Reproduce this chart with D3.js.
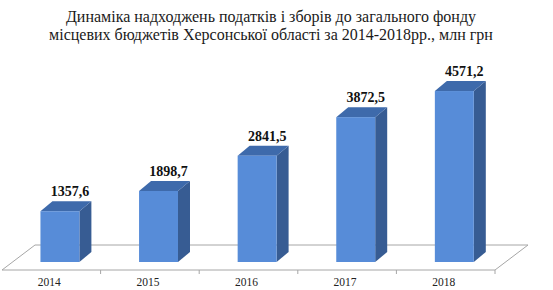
<!DOCTYPE html>
<html>
<head>
<meta charset="utf-8">
<script src="https://cdn.jsdelivr.net/npm/d3@7"></script>
<style>
  body { margin: 0; background: #fff; }
</style>
</head>
<body>
<div class="chart"></div>
<script>
// chart data
var years = ["2014", "2015", "2016", "2017", "2018"];
var values = [1357.6, 1898.7, 2841.5, 3872.5, 4571.2];
var valueLabels = ["1357,6", "1898,7", "2841,5", "3872,5", "4571,2"];
var titleLines = [
  "Динаміка надходжень податків і зборів до загального фонду",
  "місцевих бюджетів Херсонської області за 2014-2018рр., млн грн"
];

var svgWidth = 553;
var svgHeight = 290;

// 3d depth of floor and bars
var floorDx = 33, floorDy = -25;
var barDx = 12, barDy = -10;
var floorFront = 270;
var baseY = 262;

var svg = d3.select(".chart")
  .append("svg")
  .attr("width", svgWidth)
  .attr("height", svgHeight);

// scales
var xScale = d3.scaleBand()
  .domain(years)
  .range([2, 495])
  .padding(0);

var yScale = d3.scaleLinear()
  .domain([0, 5000])
  .range([baseY, baseY - 5000 * 0.0374]);

var barOffset = xScale.bandwidth() * 0.39;
var barWidth = xScale.bandwidth() * 0.395;

// title
svg.append("g")
  .selectAll("text")
  .data(titleLines)
  .enter()
  .append("text")
  .attr("x", 271)
  .attr("y", (d, i) => 22 + i * 18)
  .attr("text-anchor", "middle")
  .style("font", "16px 'Liberation Serif', 'Times New Roman', serif")
  .attr("fill", "#1a1a1a")
  .text(d => d);

// floor
var x0 = xScale.range()[0], x1 = xScale.range()[1];
var floor = svg.append("g")
  .attr("fill", "none")
  .attr("stroke", "#a6a6a6")
  .attr("stroke-width", 1);

floor.append("path")
  .attr("d", `M${x0},${floorFront} L${x1},${floorFront} L${x1 + floorDx},${floorFront + floorDy} L${x0 + floorDx},${floorFront + floorDy} Z`);

// ticks on front edge
floor.selectAll("line")
  .data(years.slice(1).concat(["end"]))
  .enter()
  .append("line")
  .attr("x1", (d, i) => x0 + (i + 1) * xScale.step())
  .attr("x2", (d, i) => x0 + (i + 1) * xScale.step())
  .attr("y1", floorFront)
  .attr("y2", floorFront + 4);

// bars
var bars = svg.selectAll("g.bar")
  .data(values)
  .enter()
  .append("g")
  .attr("class", "bar");

function bx(i) { return xScale(years[i]) + barOffset; }

// side face
bars.append("path")
  .attr("fill", "#375c93")
  .attr("d", (d, i) => {
    var l = bx(i) + barWidth, t = yScale(d);
    return `M${l},${t} L${l + barDx},${t + barDy} L${l + barDx},${baseY + barDy} L${l},${baseY} Z`;
  });

// top face
bars.append("path")
  .attr("fill", "#3e6aab")
  .attr("d", (d, i) => {
    var l = bx(i), r = l + barWidth, t = yScale(d);
    return `M${l},${t} L${l + barDx},${t + barDy} L${r + barDx},${t + barDy} L${r},${t} Z`;
  });

// front face
bars.append("rect")
  .attr("x", (d, i) => bx(i))
  .attr("y", d => yScale(d))
  .attr("width", barWidth)
  .attr("height", d => baseY - yScale(d))
  .attr("fill", "#578cd8");

// value labels
bars.append("text")
  .attr("x", (d, i) => bx(i) + barWidth / 2 + barDx / 2 + 4)
  .attr("y", d => yScale(d) + barDy - 5)
  .attr("text-anchor", "middle")
  .style("font", "bold 14px 'Liberation Serif', 'Times New Roman', serif")
  .attr("fill", "#111")
  .text((d, i) => valueLabels[i]);

// year labels
svg.append("g")
  .selectAll("text")
  .data(years)
  .enter()
  .append("text")
  .attr("x", d => xScale(d) + xScale.bandwidth() / 2 - 2)
  .attr("y", 286)
  .attr("text-anchor", "middle")
  .style("font", "11.5px 'Liberation Serif', 'Times New Roman', serif")
  .attr("fill", "#222")
  .text(d => d);
</script>
</body>
</html>
